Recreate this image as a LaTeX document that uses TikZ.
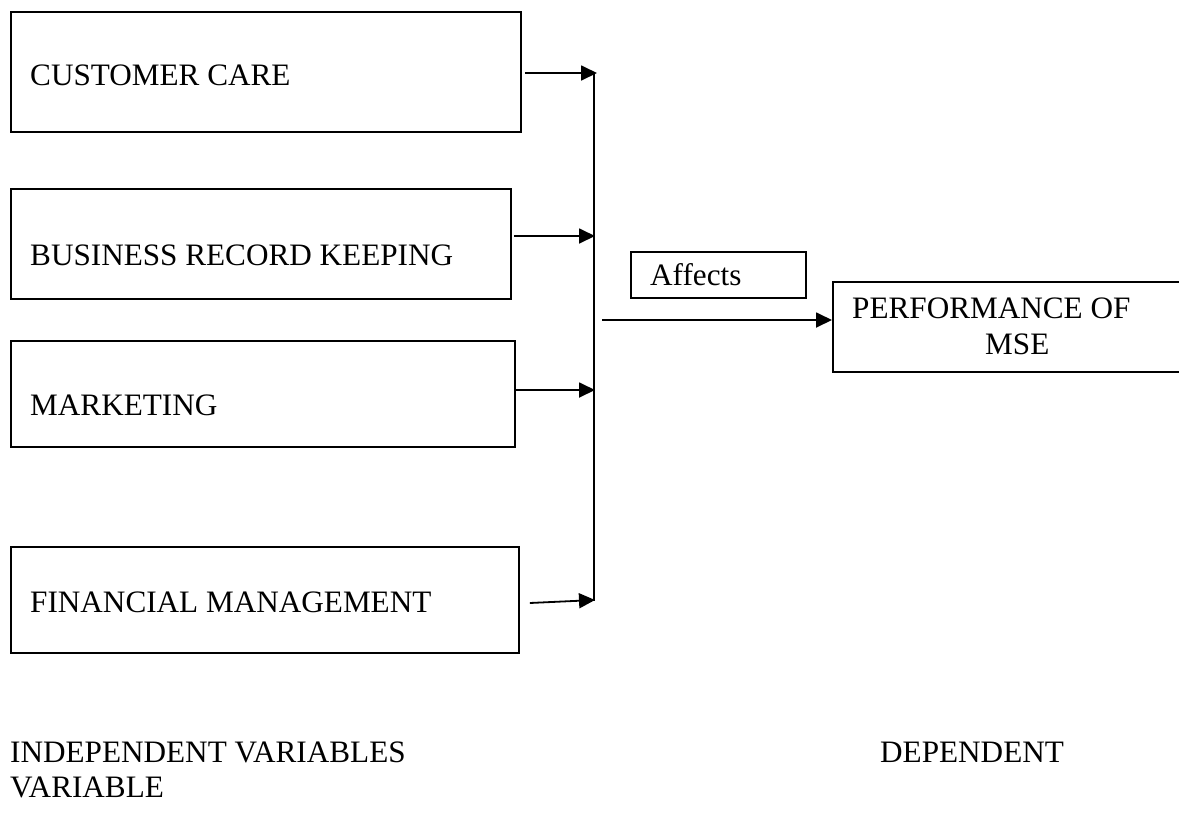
\documentclass[tikz,border=0pt]{standalone}
\usepackage{fontspec}
\setmainfont{Liberation Serif}
\usetikzlibrary{arrows.meta}
\begin{document}
\begin{tikzpicture}[x=1pt,y=-1pt,
  box/.style={draw=black,line width=1.8pt,inner sep=0pt,anchor=north west},
  lbl/.style={inner sep=0pt,anchor=base west,font=\fontsize{31.2}{36}\selectfont},
  conn/.style={line width=1.8pt},
  arr/.style={line width=1.8pt,-{Triangle[length=16pt,width=15pt]}}]
\useasboundingbox (0,0) rectangle (1179,831);
% independent variable boxes
\node[box,minimum width=510pt,minimum height=120pt] (b1) at (10,11) {};
\node[lbl] (t1) at (30,85) {CUSTOMER CARE};
\node[box,minimum width=500pt,minimum height=110pt] (b2) at (10,188) {};
\node[lbl] (t2) at (30,265) {BUSINESS RECORD KEEPING};
\node[box,minimum width=504pt,minimum height=106pt] (b3) at (10,340) {};
\node[lbl] (t3) at (30,415) {MARKETING};
\node[box,minimum width=508pt,minimum height=106pt] (b4) at (10,546) {};
\node[lbl] (t4) at (30,612) {FINANCIAL MANAGEMENT};
% affects box
\node[box,minimum width=175pt,minimum height=46pt] (aff) at (630,251) {};
\node[lbl] (ta) at (650,285) {Affects};
% dependent box
\node[box,minimum width=360pt,minimum height=90pt] (perf) at (832,281) {};
\node[lbl] (tp1) at (852,318) {PERFORMANCE OF};
\node[lbl] (tp2) at (985,354) {MSE};
% bus line
\coordinate (bt) at (594,72);
\coordinate (bb) at (594,601);
\draw[conn] (bt) -- (bb);
\coordinate (j1) at (597,73);
\coordinate (j2) at (595,236);
\coordinate (j3) at (595,390);
\coordinate (j4) at (595,600);
\draw[arr] ([xshift=3pt]b1.east |- j1) -- (j1);
\draw[arr] ([xshift=2pt]b2.east |- j2) -- (j2);
\draw[arr] (b3.east |- j3) -- (j3);
\draw[arr] ([xshift=10pt,yshift=-3pt]b4.east |- j4) -- (j4);
\coordinate (ms) at (602,320);
\draw[arr] (ms) -- (perf.west |- ms);
% captions
\node[lbl] (c1) at (10,762) {INDEPENDENT VARIABLES};
\node[lbl] (c2) at (880,762) {DEPENDENT};
\node[lbl] (c3) at (10,797) {VARIABLE};
\end{tikzpicture}
\end{document}
